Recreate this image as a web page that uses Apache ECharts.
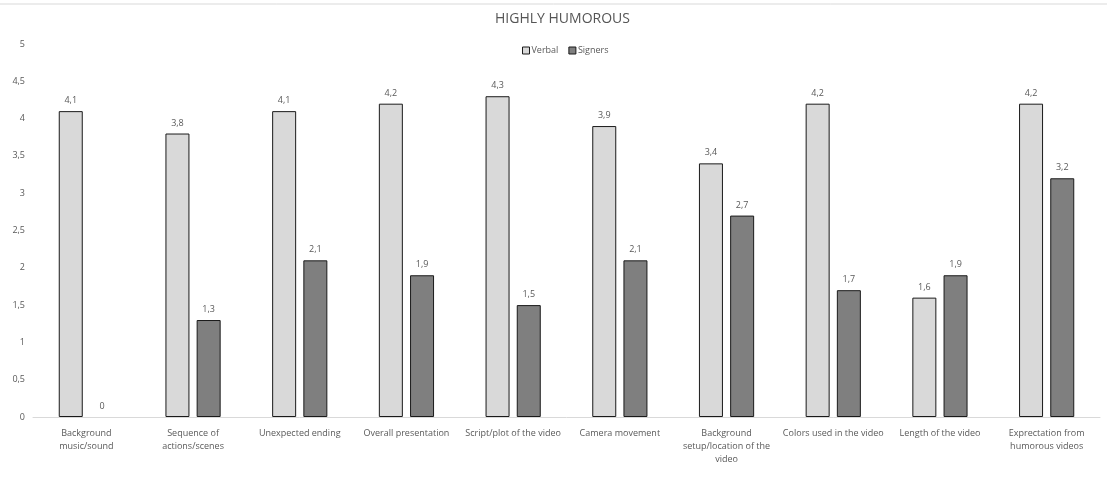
<!DOCTYPE html>
<html>
<head>
<meta charset="utf-8">
<script src="https://cdn.jsdelivr.net/npm/echarts@6/dist/echarts.min.js"></script>
<style>
  html, body { margin: 0; padding: 0; background: #ffffff; }
  #chart { width: 1107px; height: 481px; }
</style>
</head>
<body>
<div id="chart"></div>
<script>
const categories = [
  'Background\nmusic/sound',
  'Sequence of\nactions/scenes',
  'Unexpected ending',
  'Overall presentation',
  'Script/plot of the video',
  'Camera movement',
  'Background\nsetup/location of the\nvideo',
  'Colors used in the video',
  'Length of the video',
  'Exprectation from\nhumorous videos'
];
const verbal = [4.1, 3.8, 4.1, 4.2, 4.3, 3.9, 3.4, 4.2, 1.6, 4.2];
const signers = [0, 1.3, 2.1, 1.9, 1.5, 2.1, 2.7, 1.7, 1.9, 3.2];

const FONT = 'Open Sans';
const TEXT = '#595959';
const comma = v => String(v).replace('.', ',');

// zero-height bars get no outline so only their label shows
const withOutline = arr => arr.map(v => v === 0 ? { value: v, itemStyle: { borderWidth: 0 } } : v);

const valueLabel = {
  show: true, position: 'top', distance: 6,
  fontSize: 9, color: TEXT, fontFamily: FONT,
  formatter: p => comma(p.value)
};

const chart = echarts.init(document.getElementById('chart'));
chart.setOption({
  backgroundColor: '#ffffff',
  animation: false,
  textStyle: { fontFamily: FONT },
  title: {
    text: 'HIGHLY HUMOROUS',
    left: 490,
    top: 7,
    textStyle: { fontFamily: FONT, fontSize: 14, fontWeight: 500, color: '#555555' }
  },
  legend: {
    top: 41,
    left: 517,
    icon: 'rect',
    itemWidth: 7,
    itemHeight: 7,
    itemGap: 10,
    textStyle: { fontFamily: FONT, fontSize: 9, color: TEXT, padding: [0, 0, 0, -3] },
    data: [
      { name: 'Verbal', itemStyle: { color: '#d9d9d9', borderColor: '#1a1a1a', borderWidth: 1 } },
      { name: 'Signers', itemStyle: { color: '#7f7f7f', borderColor: '#1a1a1a', borderWidth: 1 } }
    ]
  },
  graphic: [{
    type: 'line',
    shape: { x1: 0, y1: 4, x2: 1107, y2: 4 },
    style: { stroke: '#d9d9d9', lineWidth: 1 }
  }],
  grid: { left: 33, right: 7, top: 44, bottom: 64, containLabel: false },
  xAxis: {
    type: 'category',
    data: categories,
    axisLine: { lineStyle: { color: '#d9d9d9' } },
    axisTick: { show: false },
    axisLabel: {
      interval: 0,
      margin: 10,
      fontSize: 9,
      lineHeight: 13,
      color: TEXT,
      fontFamily: FONT
    }
  },
  yAxis: {
    type: 'value',
    min: 0,
    max: 5,
    interval: 0.5,
    splitLine: { show: false },
    axisLine: { show: false },
    axisTick: { show: false },
    axisLabel: {
      fontSize: 9,
      color: TEXT,
      fontFamily: FONT,
      margin: 8,
      formatter: v => comma(v)
    }
  },
  series: [
    {
      name: 'Verbal',
      type: 'bar',
      data: withOutline(verbal),
      barWidth: 24,
      barGap: '30%',
      itemStyle: { color: '#d9d9d9', borderColor: '#1a1a1a', borderWidth: 1 },
      label: valueLabel
    },
    {
      name: 'Signers',
      type: 'bar',
      data: withOutline(signers),
      barWidth: 24,
      itemStyle: { color: '#7f7f7f', borderColor: '#1a1a1a', borderWidth: 1 },
      label: valueLabel
    }
  ]
});
</script>
</body>
</html>
